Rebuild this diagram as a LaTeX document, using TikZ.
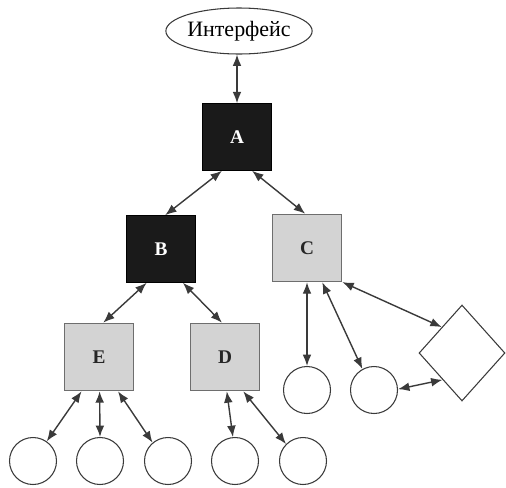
\documentclass[tikz,border=0pt]{standalone}
\usepackage{fontspec}
\setmainfont{Liberation Serif}
\usetikzlibrary{shapes.geometric,arrows.meta}

\definecolor{boxgray}{HTML}{D3D3D3}
\definecolor{boxedge}{HTML}{6E6E6E}
\definecolor{darkbox}{HTML}{1A1A1A}
\definecolor{inkline}{HTML}{3A3A3A}

\tikzset{
  darknode/.style={rectangle, draw=black, fill=darkbox, text=white,
    minimum width=1.38cm, minimum height=1.33cm, inner sep=0pt,
    font=\fontsize{11}{13}\selectfont\bfseries, line width=0.6pt},
  graynode/.style={rectangle, draw=boxedge, fill=boxgray, text=black!85,
    minimum width=1.38cm, minimum height=1.34cm, inner sep=0pt,
    font=\fontsize{11}{13}\selectfont\bfseries, line width=0.9pt},
  leaf/.style={circle, draw=inkline, fill=white, minimum size=0.94cm,
    inner sep=0pt, line width=0.6pt},
  rhomb/.style={diamond, draw=inkline, fill=white, minimum width=1.72cm,
    minimum height=1.92cm, inner sep=0pt, line width=0.6pt},
  ifnode/.style={ellipse, draw=inkline, fill=white, minimum width=2.44cm,
    minimum height=0.92cm, inner sep=0pt, line width=0.6pt,
    font=\fontsize{12.5}{14}\selectfont},
  link/.style={draw=inkline, line width=0.8pt,
    {Latex[length=6.5pt,width=5pt]}-{Latex[length=6.5pt,width=5pt]}}
}

\begin{document}
\begin{tikzpicture}[x=0.02cm, y=-0.02cm]
  \useasboundingbox (0,0) rectangle (506,487);

  % interface and module hierarchy
  \node[ifnode] (if) at (239,31) {Интерфейс};
  \node[darknode] (A) at (237,137) {A};
  \node[darknode] (B) at (161,249) {B};
  \node[graynode] (C) at (307,248) {C};
  \node[graynode] (E) at (99,357) {E};
  \node[graynode] (D) at (225,357) {D};

  % leaf elements
  \node[leaf] (c1) at (33,461) {};
  \node[leaf] (c2) at (100,461) {};
  \node[leaf] (c3) at (168,461) {};
  \node[leaf] (c4) at (235,461) {};
  \node[leaf] (c5) at (303,461) {};
  \node[leaf] (c6) at (307,390) {};
  \node[leaf] (c7) at (374,390) {};
  \node[rhomb] (dm) at (462,353) {};

  % two-way links
  \draw[link] (A.north) -- (A.north |- if.south);
  \draw[link] (A.-114) -- (B.83);
  \draw[link] (A.-66) -- (C.93);
  \draw[link] (B.-113) -- (E.83);
  \draw[link] (B.-57) -- (D.95);

  \draw[link] (E.-117) -- (c1.55);
  \draw[link] (E.-89) -- (c2.90);
  \draw[link] (E.-61) -- (c3.130);
  \draw[link] (D.-87) -- (c4.95);
  \draw[link] (D.-62) -- (c5.135);

  \draw[link] (C.south) -- (c6.north);
  \draw[link] (C.-66) -- (c7.119);
  \draw[link] (C.-44) -- (dm.128);
  \draw[link] (c7.2) -- (dm.-126);
\end{tikzpicture}
\end{document}
